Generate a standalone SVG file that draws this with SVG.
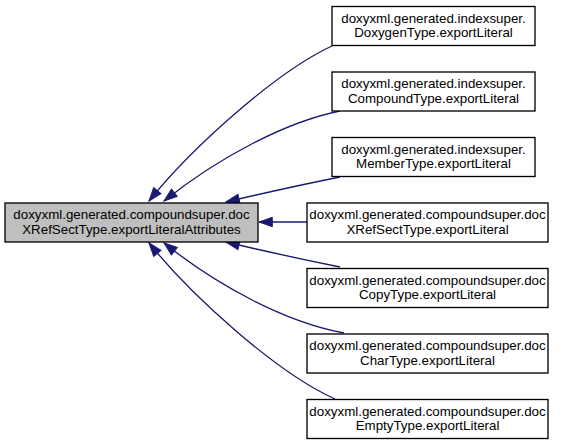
<svg xmlns="http://www.w3.org/2000/svg" width="565" height="444" viewBox="0 0 565 444">
<defs>
<style>
.node rect{fill:#ffffff;stroke:#000000;stroke-width:1.33}
.node.root rect{fill:#bfbfbf}
.node text{font-family:"Liberation Sans",Arial,sans-serif;font-size:13.33px;fill:#000000;text-anchor:middle}
.edges path{fill:none;stroke:#191970;stroke-width:1.33;marker-end:url(#arr)}
</style>
<marker id="arr" markerUnits="userSpaceOnUse" markerWidth="16" markerHeight="12" viewBox="0 -6 14 12" refX="13.3" refY="0" orient="auto">
<polygon points="0,-4.7 13.3,0 0,4.7" fill="#191970" stroke="#191970" stroke-width="1"/>
</marker>
</defs>
<rect width="565" height="444" fill="#ffffff"/>
<g id="edges" class="edges">
<path d="M333,45.5 C275,72 190,150 149,201"/>
<path d="M340,111 C285,122 218,158 164,201"/>
<path d="M340,177 C300,185 260,194 226,202"/>
<path d="M307,222 L259,222"/>
<path d="M340,267 C300,259 260,250 226,242"/>
<path d="M344,333 C285,322 218,286 164,243"/>
<path d="M335,399 C275,372 190,294 149,243"/>
</g>
<g id="node_main" class="node root">
<rect x="5" y="203" width="253" height="39"/>
<text x="131.5" y="219">doxyxml.generated.compoundsuper.doc</text>
<text x="131.5" y="233.7">XRefSectType.exportLiteralAttributes</text>
</g>
<g id="node_doxygen" class="node">
<rect x="332" y="6.5" width="203" height="39"/>
<text x="433.5" y="22.5">doxyxml.generated.indexsuper.</text>
<text x="433.5" y="37.2">DoxygenType.exportLiteral</text>
</g>
<g id="node_compound" class="node">
<rect x="332" y="72" width="203" height="39"/>
<text x="433.5" y="88">doxyxml.generated.indexsuper.</text>
<text x="433.5" y="102.7">CompoundType.exportLiteral</text>
</g>
<g id="node_member" class="node">
<rect x="332" y="137.5" width="203" height="39"/>
<text x="433.5" y="153.5">doxyxml.generated.indexsuper.</text>
<text x="433.5" y="168.2">MemberType.exportLiteral</text>
</g>
<g id="node_xrefsect" class="node">
<rect x="307" y="203" width="241" height="39"/>
<text x="427.5" y="219">doxyxml.generated.compoundsuper.doc</text>
<text x="427.5" y="233.7">XRefSectType.exportLiteral</text>
</g>
<g id="node_copy" class="node">
<rect x="307" y="268.5" width="241" height="39"/>
<text x="427.5" y="284.5">doxyxml.generated.compoundsuper.doc</text>
<text x="427.5" y="299.2">CopyType.exportLiteral</text>
</g>
<g id="node_char" class="node">
<rect x="307" y="334" width="241" height="39"/>
<text x="427.5" y="350">doxyxml.generated.compoundsuper.doc</text>
<text x="427.5" y="364.7">CharType.exportLiteral</text>
</g>
<g id="node_empty" class="node">
<rect x="307" y="399.5" width="241" height="39"/>
<text x="427.5" y="415.5">doxyxml.generated.compoundsuper.doc</text>
<text x="427.5" y="430.2">EmptyType.exportLiteral</text>
</g>
</svg>
